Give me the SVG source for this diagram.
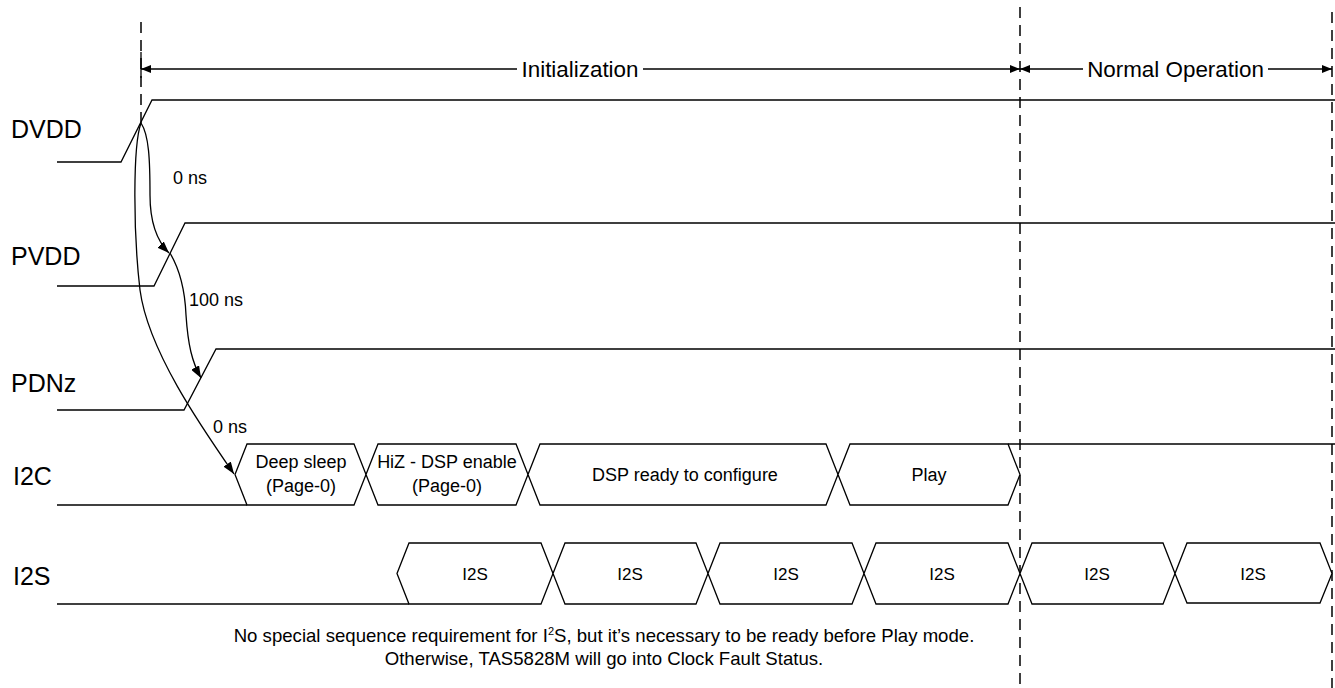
<svg xmlns="http://www.w3.org/2000/svg" width="1335" height="688" viewBox="0 0 1335 688">
<defs>
<style>
.ln{fill:none;stroke:#000;stroke-width:1.3}
.bus{fill:#fff;stroke:#000;stroke-width:1.3;stroke-linejoin:miter}
.dash{fill:none;stroke:#000;stroke-width:1.5;stroke-dasharray:11 7}
text{font-family:"Liberation Sans",Arial,sans-serif;fill:#000}
.sig{font-size:25px}
.lbl{font-size:18px;text-anchor:middle}
.i2s{font-size:17px;text-anchor:middle}
.dly{font-size:18px}
.note{font-size:18.6px;text-anchor:middle}
.phase{font-size:22.4px;text-anchor:middle}
</style>
<marker id="ah" viewBox="0 0 10 8" refX="10" refY="4" markerWidth="10" markerHeight="8" markerUnits="userSpaceOnUse" orient="auto"><path d="M0,0 L10,4 L0,8 z" fill="#000"/></marker>
<marker id="ahc" viewBox="0 0 12 9" refX="12" refY="4.5" markerWidth="12" markerHeight="9" markerUnits="userSpaceOnUse" orient="auto"><path d="M0,0 L12,4.5 L0,9 z" fill="#000"/></marker>
</defs>
<rect width="1335" height="688" fill="#fff"/>

<g id="markers">
<line class="dash" x1="141" y1="22" x2="141" y2="124"/>
<line class="ln" x1="141" y1="52" x2="141" y2="78" stroke-width="1.8"/>
<line class="dash" x1="1020" y1="7" x2="1020" y2="688"/>
<line class="dash" x1="1332" y1="12" x2="1332" y2="688"/>
</g>

<g id="phase-initialization">
<text class="phase" x="580" y="77">Initialization</text>
</g>
<g id="phase-normal">
<text class="phase" x="1175.5" y="77">Normal Operation</text>
</g>

<g id="dvdd">
<text class="sig" x="11" y="138">DVDD</text>
<path class="ln" d="M57,162 L121,162 L152,100 L1335,100"/>
</g>
<g id="pvdd">
<text class="sig" x="11" y="265">PVDD</text>
<path class="ln" d="M57,286 L154,286 L185,223 L1335,223"/>
</g>
<g id="pdnz">
<text class="sig" x="11" y="392">PDNz</text>
<path class="ln" d="M57,410 L184,410 L216,349 L1335,349"/>
</g>

<g id="i2c">
<text class="sig" x="13" y="485">I2C</text>
<path class="ln" d="M57,505 L247,505"/>
<path class="ln" d="M1008,444 L1335,444"/>
<polygon class="bus" points="235,474.5 247,444 354,444 366,474.5 354,505 247,505"/>
<polygon class="bus" points="366,474.5 378,444 516,444 528,474.5 516,505 378,505"/>
<polygon class="bus" points="528,474.5 540,444 826,444 838,474.5 826,505 540,505"/>
<polygon class="bus" points="838,474.5 850,444 1008,444 1020,474.5 1008,505 850,505"/>
<text class="lbl" x="301" y="468">Deep sleep</text>
<text class="lbl" x="301" y="492">(Page-0)</text>
<text class="lbl" x="447" y="468">HiZ - DSP enable</text>
<text class="lbl" x="447" y="492">(Page-0)</text>
<text class="lbl" x="685" y="481">DSP ready to configure</text>
<text class="lbl" x="929" y="481">Play</text>
</g>

<g id="i2s">
<text class="sig" x="13" y="585">I2S</text>
<path class="ln" d="M57,604 L409,604"/>
<polygon class="bus" points="397,573.5 409,543 541,543 553,573.5 541,604 409,604"/>
<polygon class="bus" points="553,573.5 565,543 696,543 708,573.5 696,604 565,604"/>
<polygon class="bus" points="708,573.5 720,543 852,543 864,573.5 852,604 720,604"/>
<polygon class="bus" points="864,573.5 876,543 1008,543 1020,573.5 1008,604 876,604"/>
<polygon class="bus" points="1020,573.5 1032,543 1163,543 1175,573.5 1163,604 1032,604"/>
<polygon class="bus" points="1175,573.5 1187,543 1320,543 1332,573.5 1320,603 1187,603"/>
<text class="i2s" x="475" y="580">I2S</text>
<text class="i2s" x="630" y="580">I2S</text>
<text class="i2s" x="786" y="580">I2S</text>
<text class="i2s" x="942" y="580">I2S</text>
<text class="i2s" x="1097" y="580">I2S</text>
<text class="i2s" x="1253" y="580">I2S</text>
</g>

<g id="delay-labels">
<text class="dly" x="173" y="184">0 ns</text>
<text class="dly" x="189" y="306">100 ns</text>
<text class="dly" x="213" y="433">0 ns</text>
</g>

<g id="note">
<text class="note" x="604" y="642">No special sequence requirement for I<tspan font-size="11" dy="-7">2</tspan><tspan dy="7">S, but it’s necessary to be ready before Play mode.</tspan></text>
<text class="note" x="604" y="665">Otherwise, TAS5828M will go into Clock Fault Status.</text>
</g>

<g id="connectors">
<path class="ln" d="M517,69 L141,69" marker-end="url(#ah)"/>
<path class="ln" d="M643,69 L1020,69" marker-end="url(#ah)"/>
<path class="ln" d="M1083,69 L1020,69" marker-end="url(#ah)"/>
<path class="ln" d="M1268,69 L1332,69" marker-end="url(#ah)"/>
<path class="ln" d="M141,123 C149,135 150,160 150,195 C150,225 158,242 169,253" marker-end="url(#ahc)"/>
<path class="ln" d="M170,253 C180,270 185,290 186,315 C188,345 192,362 201,378" marker-end="url(#ahc)"/>
<path class="ln" d="M141,123 C133,145 133,230 140,290 C148,350 200,425 234,474" marker-end="url(#ahc)"/>
</g>
</svg>
